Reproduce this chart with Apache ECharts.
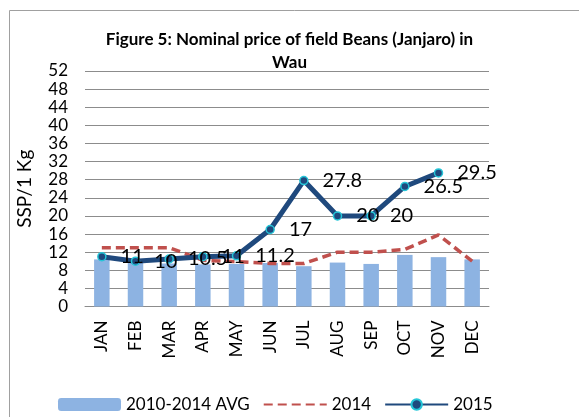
<!DOCTYPE html>
<html>
<head>
<meta charset="utf-8">
<script src="https://cdn.jsdelivr.net/npm/echarts@6/dist/echarts.min.js"></script>
<style>
  html, body { margin: 0; padding: 0; background: #fff; }
  #chart { width: 579px; height: 417px; }
</style>
</head>
<body>
<div id="chart"></div>
<script>
const months = ['JAN', 'FEB', 'MAR', 'APR', 'MAY', 'JUN', 'JUL', 'AUG', 'SEP', 'OCT', 'NOV', 'DEC'];
const avg2010to2014 = [10.4, 9.6, 9.5, 9.3, 9.4, 9.6, 8.9, 9.7, 9.4, 11.4, 10.9, 10.4];
const price2014 = [13, 13, 13, 10.2, 9.9, 9.5, 9.5, 12, 12, 12.6, 15.8, 10];
const price2015 = [11, 10, 10.5, 11, 11.2, 17, 27.8, 20, 20, 26.5, 29.5, null];

const font = 'Lato';
const chart = echarts.init(document.getElementById('chart'));
chart.setOption({
  animation: false,
  textStyle: { fontFamily: font },
  title: {
    text: 'Figure 5: Nominal price of field Beans (Janjaro) in\nWau',
    left: 'center',
    top: 23,
    padding: [5, 5, 5, 5],
    textStyle: { fontFamily: font, fontSize: 17, fontWeight: 'bold', color: '#000', lineHeight: 23 }
  },
  graphic: [
    {
      type: 'rect',
      shape: { x: 9.5, y: 10.5, width: 700, height: 600 },
      style: { fill: 'none', stroke: '#a0a0a0', lineWidth: 1 },
      silent: true
    }
  ],
  legend: {
    left: 53,
    top: 391,
    itemWidth: 63,
    itemHeight: 13,
    itemGap: 13,
    textStyle: { fontFamily: font, fontSize: 17, color: '#000' },
    data: [
      { name: '2010-2014 AVG' },
      { name: '2014', itemStyle: { opacity: 0 } },
      { name: '2015' }
    ]
  },
  grid: { left: 85, right: 90, top: 71, bottom: 110.5 },
  xAxis: {
    type: 'category',
    data: months,
    axisLine: { lineStyle: { color: '#8c8c8c' } },
    axisTick: { show: false },
    axisLabel: { rotate: 90, margin: 14, fontSize: 17, color: '#000', fontFamily: font }
  },
  yAxis: {
    type: 'value',
    min: 0,
    max: 52,
    interval: 4,
    name: 'SSP/1 Kg',
    nameLocation: 'middle',
    nameGap: 51,
    nameTextStyle: { fontSize: 19, color: '#000', fontFamily: font },
    axisLine: { show: false },
    axisTick: { show: false },
    axisLabel: { fontSize: 17, color: '#000', margin: 17, fontFamily: font },
    splitLine: { lineStyle: { color: '#8c8c8c' } }
  },
  series: [
    {
      name: '2010-2014 AVG',
      type: 'bar',
      data: avg2010to2014,
      barWidth: '46%',
      itemStyle: { color: '#8db3e2' }
    },
    {
      name: '2014',
      type: 'line',
      data: price2014,
      symbol: 'none',
      lineStyle: { color: '#c0504d', width: 3.5, type: [9, 5] },
      itemStyle: { color: '#c0504d' }
    },
    {
      name: '2015',
      type: 'line',
      data: price2015,
      symbol: 'circle',
      symbolSize: 8,
      lineStyle: { color: '#1f497d', width: 5 },
      itemStyle: { color: '#1f497d', borderColor: '#25c6d8', borderWidth: 1.5 },
      label: {
        show: true,
        position: 'right',
        distance: 14,
        fontSize: 20,
        color: '#000',
        fontFamily: font
      }
    }
  ]
});
</script>
</body>
</html>
